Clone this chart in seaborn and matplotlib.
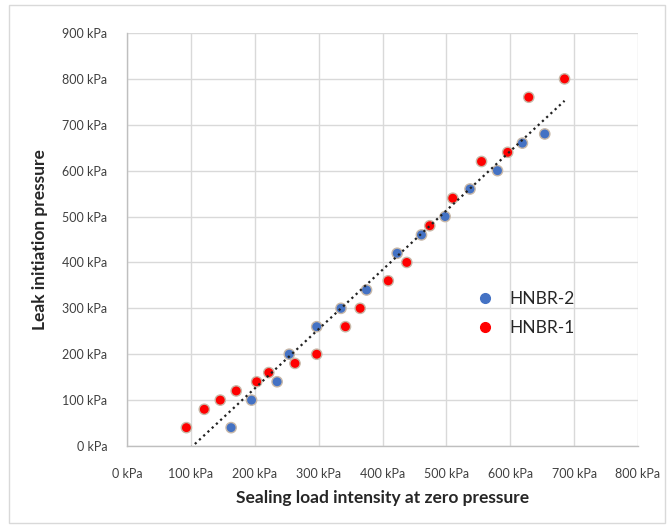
import numpy as np
import pandas as pd
import matplotlib
matplotlib.use("Agg")
import matplotlib.pyplot as plt
import seaborn as sns
from matplotlib.ticker import FuncFormatter, MultipleLocator
from matplotlib.patches import Rectangle
from matplotlib.lines import Line2D

# Data (kPa)
hnbr2_x = [163, 195, 235, 254, 297, 335, 375, 423, 461, 498, 537, 580, 619, 654]
hnbr2_y = [40, 100, 140, 200, 260, 300, 340, 420, 460, 500, 560, 600, 660, 680]
hnbr1_x = [93, 121, 146, 171, 203, 222, 263, 297, 342, 365, 409, 438, 474, 510, 555, 596, 629, 685]
hnbr1_y = [40, 80, 100, 120, 140, 160, 180, 200, 260, 300, 360, 400, 480, 540, 620, 640, 760, 800]
series_names = ["HNBR-2", "HNBR-1"]

df = pd.concat([
    pd.DataFrame({"x": hnbr2_x, "y": hnbr2_y, "series": series_names[0]}),
    pd.DataFrame({"x": hnbr1_x, "y": hnbr1_y, "series": series_names[1]}),
])

sns.set_theme(style="white")
plt.rcParams["font.family"] = ["Lato", "DejaVu Sans"]

fig = plt.figure(figsize=(6.69, 5.27), dpi=100)
ax = fig.add_axes([127/669, 1-446/527, (638-127)/669, (446-33)/527])

palette = {"HNBR-2": "#4472C4", "HNBR-1": "#FF0000"}
sns.scatterplot(data=df, x="x", y="y", hue="series", palette=palette, s=55,
                edgecolor="#C8B8A8", linewidth=1.0, ax=ax, zorder=3, legend=False)

# linear trendline over all points
coef = np.polyfit(df["x"], df["y"], 1)
xs = np.array([df["x"].min(), df["x"].max()])
ax.plot(xs, np.polyval(coef, xs), linestyle=(0, (1, 1.6)), color="#222222", lw=1.6, zorder=4)

ax.set_xlim(0, 800)
ax.set_ylim(0, 900)
ax.xaxis.set_major_locator(MultipleLocator(100))
ax.yaxis.set_major_locator(MultipleLocator(100))
fmt = FuncFormatter(lambda v, p: f"{int(v)} kPa")
ax.xaxis.set_major_formatter(fmt)
ax.yaxis.set_major_formatter(fmt)
ax.grid(True, color="#D9D9D9", lw=1)
ax.tick_params(axis="both", labelsize=9, colors="#404040", length=0)
ax.tick_params(axis="x", pad=16)
ax.tick_params(axis="y", pad=14)
for s in ["top", "right"]:
    ax.spines[s].set_visible(False)
for s in ["left", "bottom"]:
    ax.spines[s].set_color("#BFBFBF")
    ax.spines[s].set_linewidth(1)

ax.set_xlabel("Sealing load intensity at zero pressure", fontsize=12.5, fontweight="bold",
              color="#262626", labelpad=7)
ax.set_ylabel("Leak initiation pressure", fontsize=12.5, fontweight="bold",
              color="#262626", labelpad=10)

handles = [Line2D([], [], marker="o", ls="", markersize=7, markerfacecolor=palette[n],
                  markeredgecolor=palette[n]) for n in series_names]
leg = ax.legend(handles, series_names, loc="upper left", bbox_to_anchor=(0.653, 0.412),
                frameon=False, fontsize=12.5, handletextpad=0.9, labelspacing=0.75,
                handlelength=1.0)
for t in leg.get_texts():
    t.set_color("#262626")

fig.patches.append(Rectangle((9/669, 4/527), 656/669, 518/527, transform=fig.transFigure,
                             fill=False, edgecolor="#D9D9D9", lw=1))

fig.savefig("out.png", dpi=100)
